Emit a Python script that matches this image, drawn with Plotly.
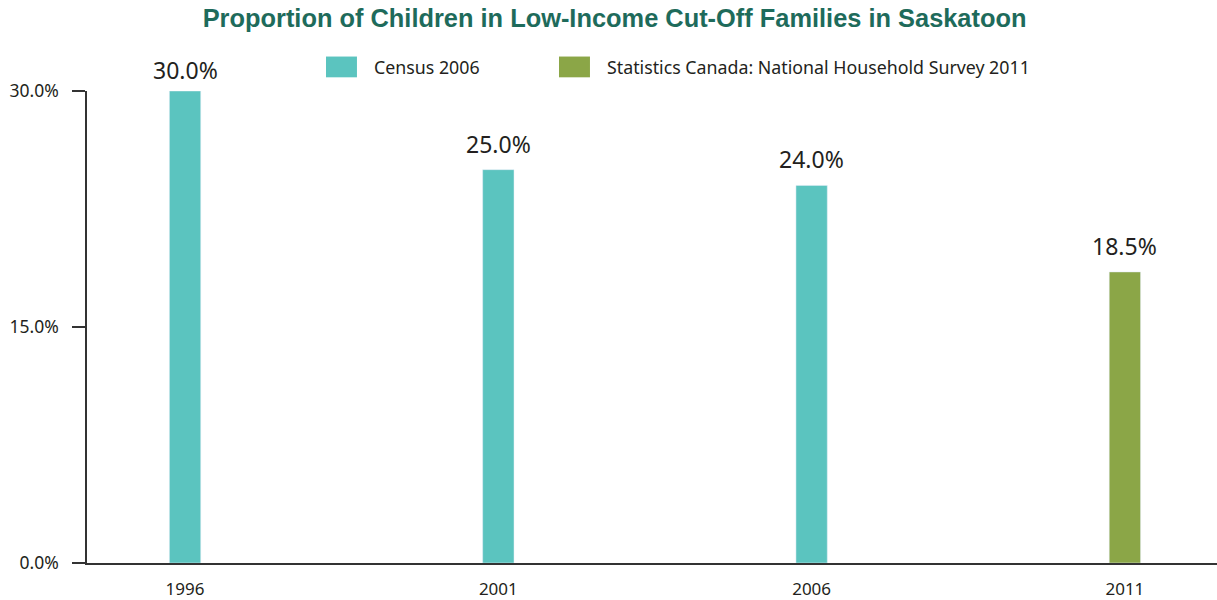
import plotly.graph_objects as go

# Survey years and child low-income proportions (%)
census_years = ["1996", "2001", "2006"]
census_values = [30.0, 25.0, 24.0]
nhs_years = ["2011"]
nhs_values = [18.5]
y_ticks = [0, 15, 30]
y_tick_labels = ["0.0%", "15.0%", "30.0%"]

census_name = "Census 2006"
nhs_name = "Statistics Canada: National Household Survey 2011"
teal = "#5BC4BF"
olive = "#8BA647"
text_color = "#231F20"
label_font = "Noto Sans"

all_years = census_years + nhs_years

fig = go.Figure()
for xs, ys, name, color in [(census_years, census_values, census_name, teal),
                            (nhs_years, nhs_values, nhs_name, olive)]:
    fig.add_trace(go.Bar(
        x=xs, y=ys, name=name,
        marker_color=color, width=0.1,
    ))
    # value labels sitting above each bar (category index used as x position)
    for x, v in zip(xs, ys):
        fig.add_annotation(x=all_years.index(x), y=v, text=f"{v:.1f}%", showarrow=False,
                           yanchor="bottom", yshift=8 if v < 30 else 3,
                           font=dict(family=label_font, size=23, color=text_color))

# Legend drawn as swatches + labels across the top
legend_items = [(census_name, teal, 0.2115), (nhs_name, olive, 0.4177)]
for name, color, x0 in legend_items:
    fig.add_shape(type="rect", xref="paper", yref="paper",
                  x0=x0, x1=x0 + 0.0274, y0=1.029, y1=1.073,
                  fillcolor=color, line_width=0)
    fig.add_annotation(xref="paper", yref="paper", x=x0 + 0.0405, y=1.051,
                       text=name, showarrow=False, xanchor="left", yanchor="middle",
                       font=dict(family=label_font, size=17.8, color=text_color))

fig.update_layout(
    width=1217, height=600,
    margin=dict(l=87, r=0, t=91, b=37),
    paper_bgcolor="white", plot_bgcolor="white",
    barmode="overlay", showlegend=False,
    title=dict(text="<b>Proportion of Children in Low-Income Cut-Off Families in Saskatoon</b>",
               x=0.505, xanchor="center", y=0.97, yanchor="middle",
               font=dict(family="Liberation Sans", size=25.4, color="#1E6B5B")),
    xaxis=dict(type="category", categoryorder="array", categoryarray=all_years,
               range=[-0.313, 3.294], automargin=False,
               showline=True, linecolor="#333333", linewidth=1.5,
               ticks="", showgrid=False, zeroline=False,
               ticklabelstandoff=10,
               tickfont=dict(family=label_font, size=17, color=text_color)),
    yaxis=dict(range=[0, 30], tickvals=y_ticks, ticktext=y_tick_labels, automargin=False,
               showline=True, linecolor="#333333", linewidth=1.5,
               ticks="outside", ticklen=13, tickcolor="#333333", tickwidth=1.5,
               ticklabelstandoff=10,
               showgrid=False, zeroline=False,
               tickfont=dict(family=label_font, size=17.5, color=text_color)),
)

fig.write_html("out.html")
